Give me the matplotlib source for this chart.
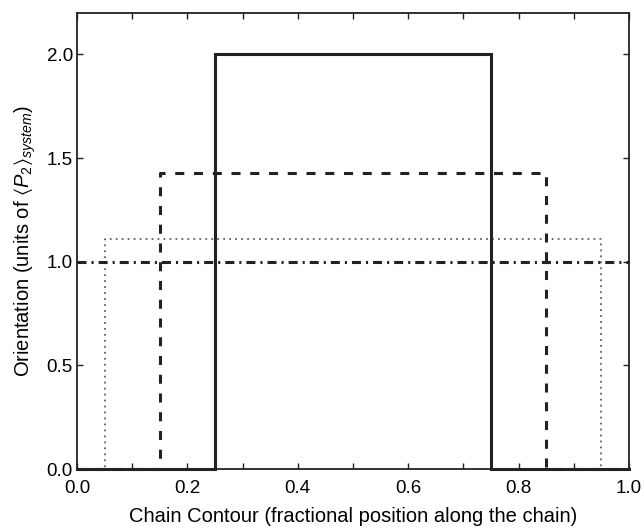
import numpy as np
import matplotlib
matplotlib.use("Agg")
import matplotlib.pyplot as plt
from matplotlib.ticker import MultipleLocator

# step profiles: (start, end, height) along the chain contour
solid_profile = (0.25, 0.75, 2.0)
dashed_profile = (0.15, 0.85, 1.4286)
dotted_profile = (0.05, 0.95, 1.1111)
uniform_level = 1.0

x_ticks = [0.0, 0.2, 0.4, 0.6, 0.8, 1.0]
y_ticks = [0.0, 0.5, 1.0, 1.5, 2.0]

plt.rcParams["font.family"] = ["Liberation Sans", "DejaVu Sans"]
plt.rcParams["mathtext.fontset"] = "custom"
plt.rcParams["mathtext.rm"] = "Liberation Sans"
plt.rcParams["mathtext.it"] = "Liberation Sans:italic"
plt.rcParams["mathtext.fallback"] = "stixsans"
plt.rcParams["lines.scale_dashes"] = False


def step_xy(profile):
    start, end, h = profile
    x = [0.0, start, start, end, end, 1.0]
    y = [0.0, 0.0, h, h, 0.0, 0.0]
    return x, y


fig = plt.figure(figsize=(6.44, 5.28), dpi=100)
ax = fig.add_axes([0.1196, 0.1117, 0.8571, 0.8637])

x, y = step_xy(dotted_profile)
ax.plot(x, y, color="#444444", lw=1.1, linestyle=(0, (1.3, 3.0)), clip_on=False)

ax.plot([0.0, 1.0], [uniform_level, uniform_level], color="#222222", lw=2.2,
        linestyle=(0, (6.5, 3.6, 1.5, 3.6)), clip_on=False)

x, y = step_xy(dashed_profile)
ax.plot(x, y, color="#222222", lw=2.2, linestyle=(0, (6.5, 7.0)), clip_on=False)

x, y = step_xy(solid_profile)
ax.plot(x, y, color="#222222", lw=2.2, solid_joinstyle="miter", clip_on=False)

ax.set_xlim(0, 1)
ax.set_ylim(0, 2.2)
ax.set_xticks(x_ticks)
ax.set_xticklabels([f"{t:.1f}" for t in x_ticks])
ax.set_yticks(y_ticks)
ax.set_yticklabels([f"{t:.1f}" for t in y_ticks])
ax.xaxis.set_minor_locator(MultipleLocator(0.1))

ax.tick_params(which="both", direction="in", top=True, right=True,
               length=4, width=1.0, labelsize=13.5, color="#222222")
ax.tick_params(axis="x", pad=8)
ax.tick_params(axis="y", pad=3)
for s in ax.spines.values():
    s.set_linewidth(1.3)
    s.set_color("#222222")

ax.set_xlabel("Chain Contour (fractional position along the chain)", fontsize=14.5, labelpad=7)
ax.set_ylabel(r"Orientation (units of $\langle P_2\rangle_{system}$)", fontsize=14.5, labelpad=6)

fig.savefig("out.png", dpi=100)
